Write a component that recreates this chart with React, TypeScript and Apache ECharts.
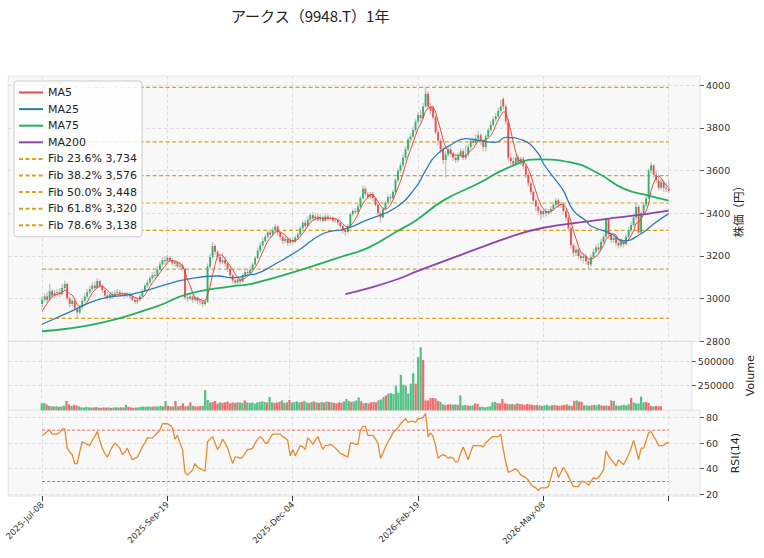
import React, { useEffect, useRef } from 'react';
import * as echarts from 'echarts';

const TITLE = 'アークス（9948.T）1年';
const tickLabels = ['2025-Jul-08', '2025-Sep-19', '2025-Dec-04', '2026-Feb-19', '2026-May-08', ''];

// [open, close, low, high]
const candles: number[][] = [
  [2975,2995,2960,3010],[2995,3010,2985,3025],[3010,2995,2980,3030],[2995,3035,2990,3070],[3035,3015,3005,3045],
  [3015,3025,3000,3040],[3025,3030,3010,3045],[3030,3020,3005,3050],[3020,3050,3015,3070],[3050,3068,3040,3085],
  [3068,3000,2990,3075],[3000,2975,2960,3010],[2975,2990,2965,3000],[2990,2955,2945,2995],[2955,2935,2907,2960],
  [2935,2960,2925,2970],[2960,2990,2950,3000],[2990,3010,2980,3025],[3010,3030,3000,3045],[3030,3045,3020,3060],
  [3045,3060,3035,3075],[3060,3050,3040,3080],[3050,3082,3045,3095],[3082,3060,3050,3090],[3060,3040,3025,3065],
  [3040,3015,3005,3050],[3015,3005,2995,3030],[3005,3020,2995,3030],[3020,3010,3000,3035],[3010,3025,3005,3040],
  [3025,3030,3015,3045],[3030,3020,3010,3040],[3020,3025,3010,3035],[3025,3015,3005,3030],[3015,3020,3005,3030],
  [3020,3010,3000,3030],[3010,2995,2985,3020],[2995,2985,2975,3005],[2985,2995,2975,3005],[2995,3010,2985,3020],
  [3010,3035,3005,3045],[3035,3060,3030,3070],[3060,3075,3050,3090],[3075,3095,3065,3105],[3095,3110,3085,3125],
  [3110,3105,3090,3130],[3105,3135,3100,3150],[3135,3160,3130,3175],[3160,3180,3150,3195],[3180,3175,3160,3200],
  [3175,3192,3165,3205],[3192,3180,3170,3200],[3180,3165,3155,3190],[3165,3170,3150,3180],[3170,3150,3140,3175],
  [3150,3155,3135,3170],[3155,3140,3130,3165],[3140,3005,2995,3145],[3005,3000,2985,3020],[3000,3010,2990,3025],
  [3010,2995,2980,3020],[2995,3005,2985,3015],[3005,2990,2975,3010],[2990,2985,2970,3000],[2985,2975,2960,2995],
  [2975,2985,2965,2995],[2985,3150,2980,3165],[3150,3195,3140,3210],[3195,3247,3185,3265],[3247,3220,3205,3255],
  [3220,3195,3180,3230],[3195,3170,3160,3205],[3170,3180,3160,3215],[3180,3165,3150,3195],[3165,3140,3125,3170],
  [3140,3110,3095,3145],[3110,3085,3070,3115],[3085,3075,3060,3095],[3075,3090,3065,3100],[3090,3080,3070,3100],
  [3080,3110,3075,3120],[3110,3125,3100,3135],[3125,3120,3110,3140],[3120,3135,3115,3150],[3135,3160,3130,3170],
  [3160,3190,3155,3200],[3190,3225,3185,3240],[3225,3250,3215,3265],[3250,3270,3240,3285],[3270,3290,3260,3300],
  [3290,3310,3280,3320],[3310,3300,3285,3325],[3300,3320,3290,3335],[3320,3338,3310,3350],[3338,3310,3295,3345],
  [3310,3290,3275,3315],[3290,3270,3255,3300],[3270,3280,3260,3295],[3280,3260,3245,3290],[3260,3275,3250,3285],
  [3275,3265,3255,3290],[3265,3285,3260,3295],[3285,3300,3275,3310],[3300,3330,3295,3340],[3330,3355,3320,3365],
  [3355,3340,3330,3370],[3340,3370,3335,3385],[3370,3390,3360,3400],[3390,3375,3365,3405],[3375,3385,3365,3395],
  [3385,3370,3360,3400],[3370,3380,3360,3395],[3380,3365,3355,3390],[3365,3385,3360,3400],[3385,3375,3365,3395],
  [3375,3380,3365,3390],[3380,3365,3355,3385],[3365,3370,3355,3380],[3370,3355,3345,3375],[3355,3340,3330,3360],
  [3340,3320,3305,3345],[3320,3312,3295,3330],[3312,3340,3305,3350],[3340,3395,3335,3405],[3395,3410,3385,3420],
  [3410,3405,3395,3425],[3405,3430,3400,3445],[3430,3470,3425,3480],[3470,3515,3465,3530],[3515,3490,3480,3525],
  [3490,3475,3465,3500],[3475,3490,3465,3500],[3490,3470,3455,3500],[3470,3440,3430,3475],[3440,3400,3390,3445],
  [3400,3380,3355,3410],[3380,3420,3375,3430],[3420,3450,3410,3460],[3450,3475,3440,3485],[3475,3470,3455,3490],
  [3470,3500,3465,3510],[3500,3555,3495,3565],[3555,3600,3545,3610],[3600,3625,3590,3640],[3625,3660,3615,3675],
  [3660,3700,3650,3715],[3700,3745,3690,3755],[3745,3760,3730,3775],[3760,3790,3750,3805],[3790,3830,3780,3840],
  [3830,3860,3820,3875],[3860,3845,3830,3885],[3845,3900,3840,3915],[3900,3960,3895,3990],[3960,3900,3885,3970],
  [3900,3880,3860,3915],[3895,3850,3840,3905],[3850,3780,3770,3860],[3780,3740,3720,3795],[3740,3700,3680,3750],
  [3700,3650,3630,3715],[3650,3675,3567,3690],[3675,3700,3665,3710],[3700,3680,3665,3715],[3680,3660,3645,3690],
  [3660,3650,3635,3670],[3650,3670,3640,3685],[3670,3690,3660,3705],[3690,3660,3650,3700],[3660,3675,3650,3720],
  [3675,3710,3665,3725],[3710,3740,3700,3750],[3740,3730,3715,3755],[3730,3750,3720,3770],[3750,3765,3740,3785],
  [3765,3740,3720,3775],[3740,3710,3690,3750],[3710,3760,3690,3770],[3760,3790,3750,3800],[3790,3815,3780,3830],
  [3815,3840,3805,3855],[3840,3855,3830,3870],[3855,3880,3845,3895],[3880,3900,3870,3930],[3935,3900,3885,3945],
  [3900,3830,3815,3910],[3830,3660,3645,3840],[3660,3645,3625,3680],[3645,3630,3615,3665],[3630,3660,3620,3670],
  [3660,3640,3625,3675],[3640,3655,3625,3665],[3655,3620,3605,3665],[3620,3580,3565,3630],[3580,3540,3525,3590],
  [3540,3500,3485,3550],[3500,3460,3440,3510],[3460,3430,3410,3470],[3430,3410,3390,3440],[3410,3395,3370,3420],
  [3395,3410,3380,3420],[3410,3400,3385,3425],[3400,3410,3390,3420],[3410,3420,3400,3435],[3420,3440,3410,3450],
  [3440,3460,3430,3470],[3460,3440,3425,3470],[3440,3445,3425,3455],[3445,3410,3395,3450],[3410,3380,3365,3420],
  [3380,3330,3315,3390],[3330,3250,3235,3340],[3250,3215,3200,3260],[3215,3230,3200,3245],[3230,3200,3185,3240],
  [3200,3190,3175,3215],[3190,3200,3165,3215],[3200,3175,3160,3210],[3175,3160,3135,3185],[3160,3195,3150,3205],
  [3195,3220,3185,3235],[3220,3240,3210,3255],[3240,3230,3215,3260],[3230,3265,3225,3280],[3265,3290,3255,3305],
  [3290,3370,3285,3380],[3370,3300,3280,3375],[3300,3275,3260,3310],[3275,3285,3260,3300],[3285,3260,3245,3295],
  [3260,3250,3235,3270],[3250,3265,3240,3280],[3265,3255,3240,3275],[3255,3290,3250,3300],[3290,3320,3280,3335],
  [3320,3345,3310,3360],[3345,3380,3335,3395],[3380,3430,3370,3450],[3430,3310,3300,3440],[3310,3400,3305,3410],
  [3400,3440,3390,3450],[3440,3470,3430,3480],[3470,3600,3465,3610],[3600,3625,3585,3640],[3625,3580,3565,3630],
  [3580,3555,3540,3600],[3555,3520,3505,3575],[3520,3545,3510,3560],[3545,3520,3500,3555],[3520,3515,3500,3545],
  [3515,3505,3495,3555],
];

const volumeThousands: number[] = [
  70,75,60,45,40,38,42,35,40,45, 95,60,45,55,50,40,30,28,35,30,
  28,30,32,28,25,30,28,30,25,28, 30,28,30,28,55,35,30,25,28,30,
  35,38,35,40,35,38,40,38,45,40, 95,45,40,38,95,40,45,72,40,45,
  80,45,40,38,45,45,205,105,80,85, 95,70,80,75,80,88,70,80,75,80,
  80,75,100,80,75,80,70,80,85,90, 85,80,135,80,75,80,85,100,75,80,
  105,80,85,90,80,85,95,80,75,85, 90,80,75,85,80,90,85,80,75,70,
  80,75,90,115,95,85,90,100,130,90, 70,75,70,80,85,80,100,110,135,150,
  170,175,165,250,180,360,260,250,170,270, 375,270,540,640,510,100,100,125,125,120,
  95,85,60,55,60,60,55,60,55,150, 50,55,50,45,50,70,65,35,35,30,
  35,40,80,85,75,70,115,70,65,60, 65,60,70,65,60,55,65,60,55,50,
  55,50,45,50,55,45,50,55,50,45, 50,55,60,50,45,95,100,90,85,50,
  50,45,50,55,50,60,50,45,50,45, 100,95,50,45,50,55,50,60,125,80,
  70,70,140,80,85,75,45,40,45,40, 40,
];

const rsi14: number[] = [
  66,67,69,70,67,67,67,68,71,71, 56,53,51,44,44,53,61,60,59,58,
  62,65,69,62,56,52,49,53,57,60, 58,56,51,53,56,51,47,48,49,53,
  57,60,64,64,64,66,68,70,75,75, 75,74,72,63,66,60,55,37,35,37,
  39,44,41,40,39,38,61,63,65,60, 55,58,63,60,56,50,44,49,49,48,
  49,52,55,55,56,60,63,65,63,60, 60,64,67,67,67,67,65,64,62,50,
  55,50,54,58,57,55,64,62,59,62, 65,60,55,58,58,59,58,56,54,52,
  51,50,49,60,60,59,59,70,73,73, 66,66,66,63,60,48,52,57,61,64,
  68,70,72,75,77,79,76,77,77,76, 79,79,80,83,65,68,65,58,48,50,
  51,50,48,49,48,45,46,52,57,52, 47,53,58,58,58,58,57,60,62,64,
  65,65,65,67,55,45,37,38,39,40, 38,35,34,33,31,28,26,25,23,25,
  25,25,26,33,40,41,33,37,41,38, 34,30,26,26,26,30,30,29,27,30,
  33,32,33,36,39,54,50,47,45,42, 47,45,43,47,51,56,62,55,47,56,
  56,62,68,69,65,62,58,58,58,60, 60,
];

const priorCloses = [2900, 2915, 2935, 2950];

// [bar index, value]
const ma25Points: number[][] = [
  [0,2880],[10,2932],[23,2998],[36,3021],[50,3068],[56,3087],[70,3106],[76,3098],[83,3112],[85,3115],
  [93,3162],[102,3224],[112,3304],[121,3327],[129,3365],[141,3426],[149,3520],[153,3600],[157,3670],
  [164,3727],[169,3750],[174,3741],[181,3732],[185,3755],[192,3741],[198,3680],[200,3633],[206,3539],
  [208,3506],[212,3412],[217,3365],[219,3340],[227,3304],[232,3271],[239,3304],[244,3350],[250,3398],
];
const ma75Points: number[][] = [
  [0,2847],[23,2885],[46,2965],[58,3021],[76,3059],[83,3068],[102,3130],[118,3191],[130,3238],[142,3318],
  [149,3365],[160,3459],[174,3539],[186,3614],[198,3652],[211,3638],[222,3586],[232,3515],[242,3482],[250,3459],
];
const ma200Points: number[][] = [
  [121,3021],[130,3048],[142,3092],[150,3130],[174,3235],[187,3290],[200,3332],[218,3362],[229,3379],[242,3398],[250,3412],
];

const fibRatios = [0, 23.6, 38.2, 50.0, 61.8, 78.6, 100];
const fibLevels = [3990, 3734, 3576, 3448, 3320, 3138, 2907];

const priceTicks = [2800, 3000, 3200, 3400, 3600, 3800, 4000];
const volumeTicks = [250000, 500000];
const rsiTicks = [20, 40, 60, 80];
const rsiBands = [70, 30];

const UP = '#2bb36a';
const DOWN = '#ee4b4b';
const FIB = '#d9a21b';
const FONT = 'DejaVu Sans';
const JP = 'Noto Sans CJK JP';

const PAD_LEFT = 13;
const N_CATS = 276;
const TICK_STEP = 50;

export default function App() {
  const ref = useRef<HTMLDivElement>(null);

  useEffect(() => {
    if (!ref.current) return;
    const chart = echarts.init(ref.current, undefined, { renderer: 'svg' });
    const cats = Array.from({ length: N_CATS }, (_, k) => String(k));
    const isTick = (idx: number) => idx >= PAD_LEFT && (idx - PAD_LEFT) % TICK_STEP === 0 && (idx - PAD_LEFT) / TICK_STEP < tickLabels.length;

    const closes = candles.map((c) => c[1]);
    const allCloses = [...priorCloses, ...closes];
    const ma5 = closes.map((_, i) => {
      const j = i + priorCloses.length;
      const s = allCloses.slice(Math.max(0, j - 4), j + 1);
      return [PAD_LEFT + i, s.reduce((a, b) => a + b, 0) / s.length];
    });
    const shift = (pts: number[][]) => pts.map(([i, v]) => [PAD_LEFT + i, v]);

    const splitLineX = {
      show: true,
      interval: (idx: number) => isTick(idx),
      alignWithLabel: true,
      lineStyle: { color: '#d6d6d6', type: [3, 3], width: 0.8 },
    };
    const splitLineY = { show: true, lineStyle: { color: '#d6d6d6', type: [3, 3], width: 0.8 } };

    const grids = [
      { left: 8.3, right: 64, top: 76, height: 265.3 },
      { left: 8.3, right: 64, top: 341.3, height: 69 },
      { left: 8.3, right: 64, top: 410.3, height: 85.7 },
    ].map((g) => ({ ...g, show: true, backgroundColor: '#f8f8f8', borderColor: '#e4e4e4', borderWidth: 1 }));

    const xAxes = [0, 1, 2].map((gi) => ({
      type: 'category',
      gridIndex: gi,
      data: cats,
      boundaryGap: true,
      axisLine: { show: false },
      axisTick: gi === 2
        ? { show: true, interval: (idx: number) => isTick(idx), alignWithLabel: true, length: 5, lineStyle: { color: '#333' } }
        : { show: false },
      axisLabel: gi === 2
        ? {
            show: true,
            interval: (idx: number) => isTick(idx),
            rotate: 45,
            fontSize: 8.5,
            fontFamily: FONT,
            color: '#333',
            margin: 7,
            formatter: (v: string) => {
              const j = (Number(v) - PAD_LEFT) / TICK_STEP;
              return tickLabels[j] ?? '';
            },
          }
        : { show: false },
      splitLine: splitLineX,
    }));

    const plain = (v: number) => String(v);
    const axisLabelY = { fontSize: 9.5, fontFamily: FONT, color: '#333', margin: 6, formatter: plain };
    const yAxes = [
      {
        type: 'value', gridIndex: 0, position: 'right', min: 2800, max: 4043,
        axisLine: { show: false },
        axisTick: { show: true, length: 4, customValues: priceTicks, lineStyle: { color: '#555' } },
        axisLabel: { ...axisLabelY, customValues: priceTicks },
        splitLine: splitLineY,
        name: '株価（円）', nameLocation: 'middle', nameRotate: 90, nameGap: 32, nameMoveOverlap: false,
        nameTextStyle: { fontFamily: JP, fontSize: 11.5, color: '#222' },
      },
      {
        type: 'value', gridIndex: 1, position: 'right', min: 0, max: 700000,
        axisLine: { show: false },
        axisTick: { show: true, length: 4, customValues: volumeTicks, lineStyle: { color: '#555' } },
        axisLabel: { ...axisLabelY, customValues: volumeTicks },
        splitLine: splitLineY,
        name: 'Volume', nameLocation: 'middle', nameRotate: 90, nameGap: 50,
        nameTextStyle: { fontFamily: FONT, fontSize: 11, color: '#222' },
      },
      {
        type: 'value', gridIndex: 2, position: 'right', min: 18.7, max: 85.5,
        axisLine: { show: false },
        axisTick: { show: true, length: 4, customValues: rsiTicks, lineStyle: { color: '#555' } },
        axisLabel: { ...axisLabelY, customValues: rsiTicks },
        splitLine: splitLineY,
        name: 'RSI(14)', nameLocation: 'middle', nameRotate: 90, nameGap: 30,
        nameTextStyle: { fontFamily: FONT, fontSize: 11, color: '#222' },
      },
    ];

    const candleSeries = {
      type: 'custom',
      name: 'candles',
      xAxisIndex: 0,
      yAxisIndex: 0,
      clip: true,
      encode: { x: 0, y: [1, 2, 3, 4] },
      data: candles.map((c, i) => [PAD_LEFT + i, c[0], c[1], c[2], c[3]]),
      renderItem: (params: any, api: any) => {
        const x = api.value(0);
        const o = api.value(1), c = api.value(2), l = api.value(3), h = api.value(4);
        const pH = api.coord([x, h]);
        const pL = api.coord([x, l]);
        const pO = api.coord([x, o]);
        const pC = api.coord([x, c]);
        const bw = 1.8;
        const top = Math.min(pO[1], pC[1]);
        const hgt = Math.max(Math.abs(pO[1] - pC[1]), 0.8);
        return {
          type: 'group',
          children: [
            { type: 'line', shape: { x1: pH[0], y1: pH[1], x2: pL[0], y2: pL[1] }, style: { stroke: '#c4c4c4', lineWidth: 1.4 } },
            { type: 'rect', shape: { x: pO[0] - bw / 2, y: top, width: bw, height: hgt }, style: { fill: c >= o ? UP : DOWN } },
          ],
        };
      },
      z: 3,
    };

    const lineSeries = (name: string, data: number[][], color: string, width: number, smooth = false) => ({
      type: 'line', name, xAxisIndex: 0, yAxisIndex: 0, data, symbol: 'none', smooth,
      lineStyle: { color, width }, itemStyle: { color }, z: 4,
    });

    const fibSeries = fibLevels.map((lv, k) => ({
      type: 'line',
      name: fibRatios[k] > 0 && fibRatios[k] < 100 ? `Fib ${fibRatios[k].toFixed(1)}% ${lv.toLocaleString('en-US')}` : `fib${k}`,
      xAxisIndex: 0, yAxisIndex: 0, symbol: 'none',
      data: [[PAD_LEFT, lv], [PAD_LEFT + candles.length - 1, lv]],
      lineStyle: { color: FIB, width: 1.2, type: [4, 2.5] }, itemStyle: { color: FIB }, z: 2,
    }));

    const volumeSeries = {
      type: 'bar', name: 'vol', xAxisIndex: 1, yAxisIndex: 1, barWidth: 2.2,
      data: volumeThousands.map((v, i) => ({
        value: [PAD_LEFT + i, v * 1000],
        itemStyle: { color: candles[i][1] >= candles[i][0] ? UP : DOWN, opacity: 0.8 },
      })),
    };

    const rsiSeries = {
      type: 'line', name: 'rsi', xAxisIndex: 2, yAxisIndex: 2, symbol: 'none',
      data: rsi14.map((v, i) => [PAD_LEFT + i, v]),
      lineStyle: { color: '#e8892b', width: 1.3 }, z: 4,
    };
    const rsiBandSeries = rsiBands.map((b, k) => ({
      type: 'line', name: `rsiband${k}`, xAxisIndex: 2, yAxisIndex: 2, symbol: 'none',
      data: [[PAD_LEFT, b], [PAD_LEFT + candles.length - 1, b]],
      lineStyle: { color: k === 0 ? '#e0463c' : '#2c7fb8', width: 0.8, type: [3, 2] }, z: 2,
    }));

    const legendNames = ['MA5', 'MA25', 'MA75', 'MA200', ...fibSeries.map((s) => s.name).filter((n) => n.startsWith('Fib'))];

    chart.setOption({
      animation: false,
      backgroundColor: '#ffffff',
      title: {
        text: TITLE, left: 226, top: 3,
        textStyle: { fontFamily: JP, fontSize: 15, fontWeight: 'normal', color: '#222' },
      },
      legend: {
        data: legendNames,
        orient: 'vertical',
        left: 14, top: 81,
        itemWidth: 24, itemHeight: 12, itemGap: 3.6,
        padding: [5, 5, 5, 4],
        backgroundColor: 'rgba(255,255,255,0.85)',
        borderColor: '#cccccc', borderWidth: 1, borderRadius: 3,
        itemStyle: { opacity: 0 },
        textStyle: { fontFamily: FONT, fontSize: 11, color: '#222', lineHeight: 13 },
        selectedMode: false,
      },
      grid: grids,
      xAxis: xAxes,
      yAxis: yAxes,
      series: [
        ...fibSeries,
        candleSeries,
        lineSeries('MA5', ma5, '#e74c3c', 1),
        lineSeries('MA25', shift(ma25Points), '#2c7bb6', 1.3, true),
        lineSeries('MA75', shift(ma75Points), '#27ae60', 1.8, true),
        lineSeries('MA200', shift(ma200Points), '#8e44ad', 1.8, true),
        volumeSeries,
        rsiSeries,
        ...rsiBandSeries,
      ],
    } as any);
    return () => chart.dispose();
  }, []);

  return <div ref={ref} style={{ position: 'fixed', left: 0, top: 0, width: 764, height: 558 }} />;
}
